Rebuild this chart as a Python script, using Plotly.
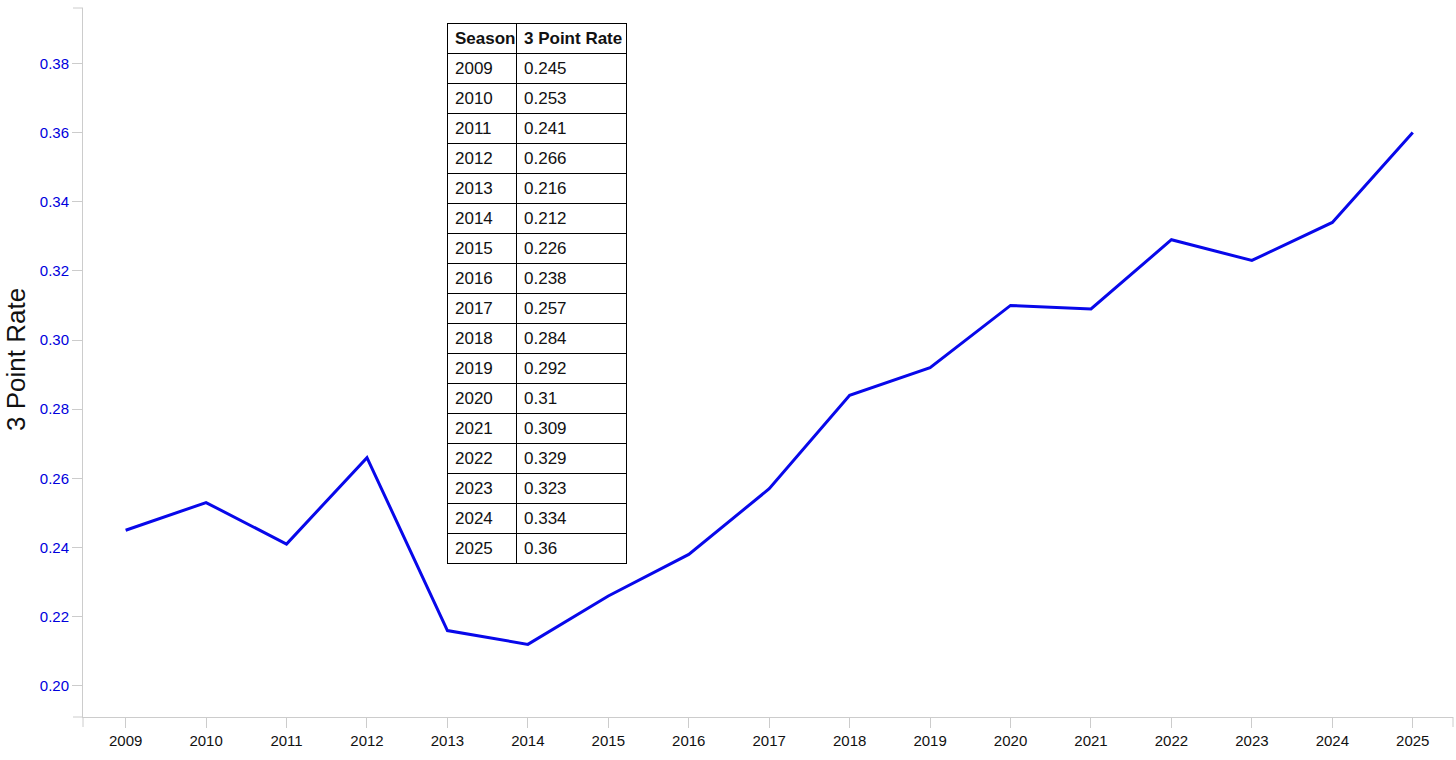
import plotly.graph_objects as go

seasons = [2009, 2010, 2011, 2012, 2013, 2014, 2015, 2016, 2017, 2018, 2019, 2020, 2021, 2022, 2023, 2024, 2025]
rates = [0.245, 0.253, 0.241, 0.266, 0.216, 0.212, 0.226, 0.238, 0.257, 0.284, 0.292, 0.31, 0.309, 0.329, 0.323, 0.334, 0.36]
y_ticks = [0.20, 0.22, 0.24, 0.26, 0.28, 0.30, 0.32, 0.34, 0.36, 0.38]
table_headers = ["Season", "3 Point Rate"]
y_title = "3 Point Rate"

W, H = 1456, 760
L, R, T, B = 83, 3, 8, 43
pw, ph = W - L - R, H - T - B

font = "Helvetica, Liberation Sans, Arial, sans-serif"

fig = go.Figure()
fig.add_trace(go.Scatter(
    x=seasons, y=rates, mode="lines",
    line=dict(color="#0808ea", width=3),
    showlegend=False, hoverinfo="x+y",
))

# table overlay (page coordinates of its box converted to paper fractions)
tx0, tx1 = (447 - L) / pw, (626 - L) / pw
ty1, ty0 = (717 - 23) / ph, (717 - 566) / ph
fig.add_trace(go.Table(
    domain=dict(x=[tx0, tx1], y=[ty0, ty1]),
    columnwidth=[69, 110],
    header=dict(
        values=[h.replace(" ", "\u00a0") for h in table_headers],
        align="left", height=30,
        line=dict(color="black", width=1),
        fill=dict(color="white"),
        font=dict(family=font, size=17, color="#111", weight="bold"),
    ),
    cells=dict(
        values=[[str(s) for s in seasons], [f"{r:g}" for r in rates]],
        align="left", height=30,
        line=dict(color="black", width=1),
        fill=dict(color="white"),
        font=dict(family=font, size=17, color="#111"),
    ),
))

axcol = "#cccccc"
fig.update_layout(
    width=W, height=H,
    margin=dict(l=L, r=R, t=T, b=B, pad=0, autoexpand=False),
    paper_bgcolor="white", plot_bgcolor="white",
    font=dict(family=font),
    xaxis=dict(
        range=[2008.47, 2025.5], tickmode="array", tickvals=seasons,
        ticktext=[str(s) for s in seasons],
        showgrid=False, zeroline=False, showline=True, linecolor=axcol, linewidth=1,
        ticks="outside", ticklen=10, tickcolor=axcol,
        tickfont=dict(family=font, size=15, color="#111"),
    ),
    yaxis=dict(
        range=[0.191, 0.396], tickmode="array", tickvals=y_ticks,
        ticktext=[f"{v:.2f}" for v in y_ticks],
        showgrid=False, zeroline=False, showline=True, linecolor=axcol, linewidth=1,
        ticks="outside", ticklen=10, tickcolor=axcol,
        tickfont=dict(family=font, size=15, color="#0000dd"),
    ),
    annotations=[
        dict(text=y_title, xref="paper", yref="paper", x=-(L - 16) / pw, y=(717 - 360) / ph,
             xanchor="center", yanchor="middle", textangle=-90, showarrow=False,
             borderpad=0, font=dict(family=font, size=26, color="#111")),
    ],
    shapes=[
        # outer end ticks (d3 style)
        dict(type="line", xref="paper", yref="paper", x0=-10 / pw, x1=0, y0=1, y1=1,
             line=dict(color=axcol, width=1)),
        dict(type="line", xref="paper", yref="paper", x0=-10 / pw, x1=0, y0=0, y1=0,
             line=dict(color=axcol, width=1)),
        dict(type="line", xref="paper", yref="paper", x0=0, x1=0, y0=0, y1=-10 / ph,
             line=dict(color=axcol, width=1)),
        dict(type="line", xref="paper", yref="paper", x0=1, x1=1, y0=0, y1=-10 / ph,
             line=dict(color=axcol, width=1)),
    ],
)

# remove the default 8px page margin so the figure fills the window exactly
fig.write_html(
    "out.html",
    config={"displayModeBar": False},
    post_script="document.body.style.margin='0';document.body.style.overflow='hidden';",
)
